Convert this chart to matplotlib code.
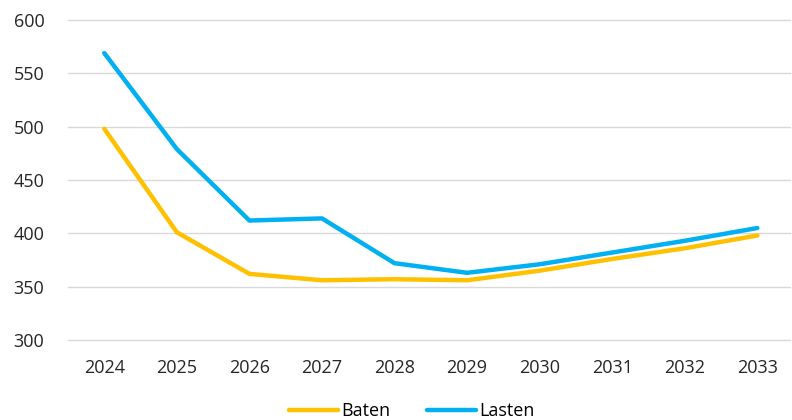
import matplotlib.pyplot as plt

# Gegevens
jaren = ['2024', '2025', '2026', '2027', '2028', '2029', '2030', '2031', '2032', '2033']
baten = [498, 401, 362, 356, 357, 356, 365, 376, 386, 398]
lasten = [569, 479, 412, 414, 372, 363, 371, 382, 393, 405]

plt.rcParams['font.family'] = ['Open Sans', 'DejaVu Sans']

fig = plt.figure(figsize=(7.92, 4.20), dpi=100)
ax = fig.add_axes([68 / 792, 80 / 420, 722 / 792, 320 / 420])

x = range(len(jaren))
ax.plot(x, baten, color='#FFC000', lw=3.2, label='Baten', solid_capstyle='round')
ax.plot(x, lasten, color='#00B0F0', lw=3.2, label='Lasten', solid_capstyle='round')

ax.set_xlim(-0.5, len(jaren) - 0.55)
ax.set_ylim(300, 600)
ax.set_yticks(range(300, 601, 50))
ax.set_xticks(list(x))
ax.set_xticklabels(jaren)
ax.grid(axis='y', color='#D9D9D9', lw=1)
for gl in ax.get_ygridlines():
    gl.set_clip_on(False)
ax.set_axisbelow(True)
for s in ax.spines.values():
    s.set_visible(False)
ax.tick_params(length=0, labelsize=13, colors='#262626')
ax.tick_params(axis='y', pad=17)
ax.tick_params(axis='x', pad=14)

fig.legend(loc='center', bbox_to_anchor=(0.52, 9 / 420), ncol=2, frameon=False,
           fontsize=13, handlelength=2.7, handletextpad=0.2, columnspacing=2.0)

fig.savefig('out.png', dpi=100)
